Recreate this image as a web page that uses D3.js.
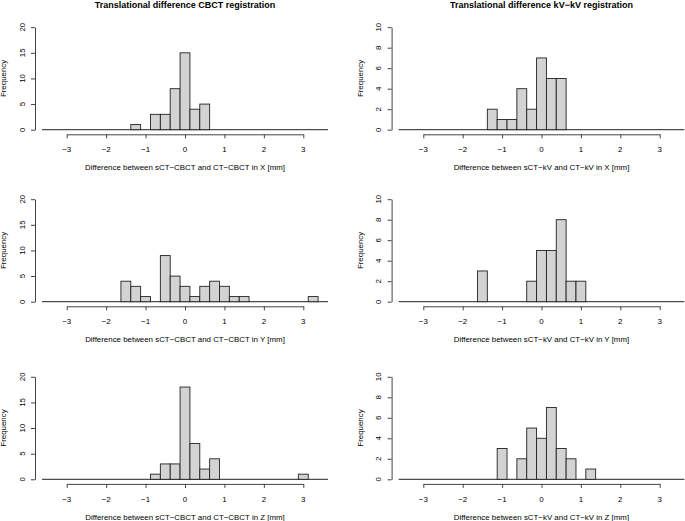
<!DOCTYPE html>
<html>
<head>
<meta charset="utf-8">
<script src="https://cdn.jsdelivr.net/npm/d3@7"></script>
<style>
  html, body { margin: 0; padding: 0; background: #fff; }
  svg { display: block; font-family: "Liberation Sans", Arial, Helvetica, sans-serif; }
</style>
</head>
<body>
<svg id="chart" width="685" height="521"></svg>
<script>
// ---- data (bin centers, bin width 0.25; breaks run from -3.625 to 3.625) ----
const binWidth = 0.25;
const breakRange = [-3.625, 3.625];
const xTicks = [-3, -2, -1, 0, 1, 2, 3];
const yTicksCBCT = [0, 5, 10, 15, 20];
const yTicksKV = [0, 2, 4, 6, 8, 10];

const cbctXCenters = [-1.25, -0.75, -0.5, -0.25, 0, 0.25, 0.5];
const cbctXCounts  = [1, 3, 3, 8, 15, 4, 5];
const kvXCenters   = [-1.25, -1, -0.75, -0.5, -0.25, 0, 0.25, 0.5];
const kvXCounts    = [2, 1, 1, 4, 2, 7, 5, 5];
const cbctYCenters = [-1.5, -1.25, -1, -0.5, -0.25, 0, 0.25, 0.5, 0.75, 1, 1.25, 1.5, 3.25];
const cbctYCounts  = [4, 3, 1, 9, 5, 3, 1, 3, 4, 3, 1, 1, 1];
const kvYCenters   = [-1.5, -0.25, 0, 0.25, 0.5, 0.75, 1];
const kvYCounts    = [3, 2, 5, 5, 8, 2, 2];
const cbctZCenters = [-0.75, -0.5, -0.25, 0, 0.25, 0.5, 0.75, 3];
const cbctZCounts  = [1, 3, 3, 18, 7, 2, 4, 1];
const kvZCenters   = [-1, -0.5, -0.25, 0, 0.25, 0.5, 0.75, 1.25];
const kvZCounts    = [3, 2, 5, 4, 7, 3, 2, 1];

const titles = ["Translational difference CBCT registration", "Translational difference kV\u2212kV registration"];
const xLabels = [
  ["Difference between sCT\u2212CBCT and CT\u2212CBCT in X [mm]", "Difference between sCT\u2212kV and CT\u2212kV in X [mm]"],
  ["Difference between sCT\u2212CBCT and CT\u2212CBCT in Y [mm]", "Difference between sCT\u2212kV and CT\u2212kV in Y [mm]"],
  ["Difference between sCT\u2212CBCT and CT\u2212CBCT in Z [mm]", "Difference between sCT\u2212kV and CT\u2212kV in Z [mm]"]
];
const yLabel = "Frequency";

// ---- layout ----
const svg = d3.select("#chart");
svg.append("rect").attr("width", 685).attr("height", 521).attr("fill", "#fff");

const colRange = [[66.7, 303.3], [423.3, 659.7]];
const rowZero = [129.7, 301.7, 479.3];
const plotH = 102.5;
const axisColor = "#444";
const fs = 7.9;

const panels = [
  [{c: cbctXCenters, n: cbctXCounts, max: 20, ticks: yTicksCBCT}, {c: kvXCenters, n: kvXCounts, max: 10, ticks: yTicksKV}],
  [{c: cbctYCenters, n: cbctYCounts, max: 20, ticks: yTicksCBCT}, {c: kvYCenters, n: kvYCounts, max: 10, ticks: yTicksKV}],
  [{c: cbctZCenters, n: cbctZCounts, max: 20, ticks: yTicksCBCT}, {c: kvZCenters, n: kvZCounts, max: 10, ticks: yTicksKV}]
];

panels.forEach((row, r) => {
  row.forEach((p, col) => {
    const x = d3.scaleLinear().domain([-3, 3]).range(colRange[col]);
    const y = d3.scaleLinear().domain([0, p.max]).range([rowZero[r], rowZero[r] - plotH]);
    const g = svg.append("g");
    const yAxisX = x(-3) - 31.7;

    // title (top row only)
    if (r === 0) {
      g.append("text").attr("x", x(0)).attr("y", 8)
        .attr("text-anchor", "middle").attr("font-weight", "bold")
        .attr("font-size", 9).attr("fill", "#000").text(titles[col]);
    }

    // baseline formed by the zero-height bins
    g.append("line")
      .attr("x1", x(breakRange[0])).attr("x2", x(breakRange[1]))
      .attr("y1", y(0)).attr("y2", y(0))
      .attr("stroke", "#222").attr("stroke-width", 1);

    // bars
    const data = p.c.map((c, i) => ({c, n: p.n[i]}));
    g.selectAll("rect.bar").data(data).join("rect")
      .attr("class", "bar")
      .attr("x", d => x(d.c - binWidth / 2))
      .attr("width", d => x(d.c + binWidth / 2) - x(d.c - binWidth / 2))
      .attr("y", d => y(d.n))
      .attr("height", d => y(0) - y(d.n))
      .attr("fill", "#d3d3d3")
      .attr("stroke", "#222")
      .attr("stroke-width", 0.9);

    // x axis
    const xa = g.append("g").attr("transform", `translate(0,${rowZero[r] + 4.6})`)
      .call(d3.axisBottom(x).tickValues(xTicks).tickSize(4).tickSizeOuter(0).tickFormat(""));
    xa.select(".domain").attr("stroke", axisColor);
    xa.selectAll(".tick line").attr("stroke", axisColor);
    g.selectAll("text.xt").data(xTicks).join("text").attr("class", "xt")
      .attr("x", d => x(d)).attr("y", rowZero[r] + 22.3)
      .attr("text-anchor", "middle").attr("font-size", fs).attr("fill", "#000")
      .text(d => d < 0 ? "\u2212" + Math.abs(d) : String(d));
    g.append("text").attr("x", x(0)).attr("y", rowZero[r] + 40.2)
      .attr("text-anchor", "middle").attr("font-size", fs).attr("fill", "#000")
      .text(xLabels[r][col]);

    // y axis
    const ya = g.append("g").attr("transform", `translate(${yAxisX},0)`)
      .call(d3.axisLeft(y).tickValues(p.ticks).tickSize(4).tickSizeOuter(0).tickFormat(""));
    ya.select(".domain").attr("stroke", axisColor);
    ya.selectAll(".tick line").attr("stroke", axisColor);
    g.selectAll("text.yt").data(p.ticks).join("text").attr("class", "yt")
      .attr("transform", d => `translate(${yAxisX - 10.3},${y(d)}) rotate(-90)`)
      .attr("text-anchor", "middle").attr("font-size", fs).attr("fill", "#000")
      .text(d => String(d));
    g.append("text")
      .attr("transform", `translate(${yAxisX - 29},${y(p.max / 2)}) rotate(-90)`)
      .attr("text-anchor", "middle").attr("font-size", fs).attr("fill", "#000")
      .text(yLabel);
  });
});
</script>
</body>
</html>
